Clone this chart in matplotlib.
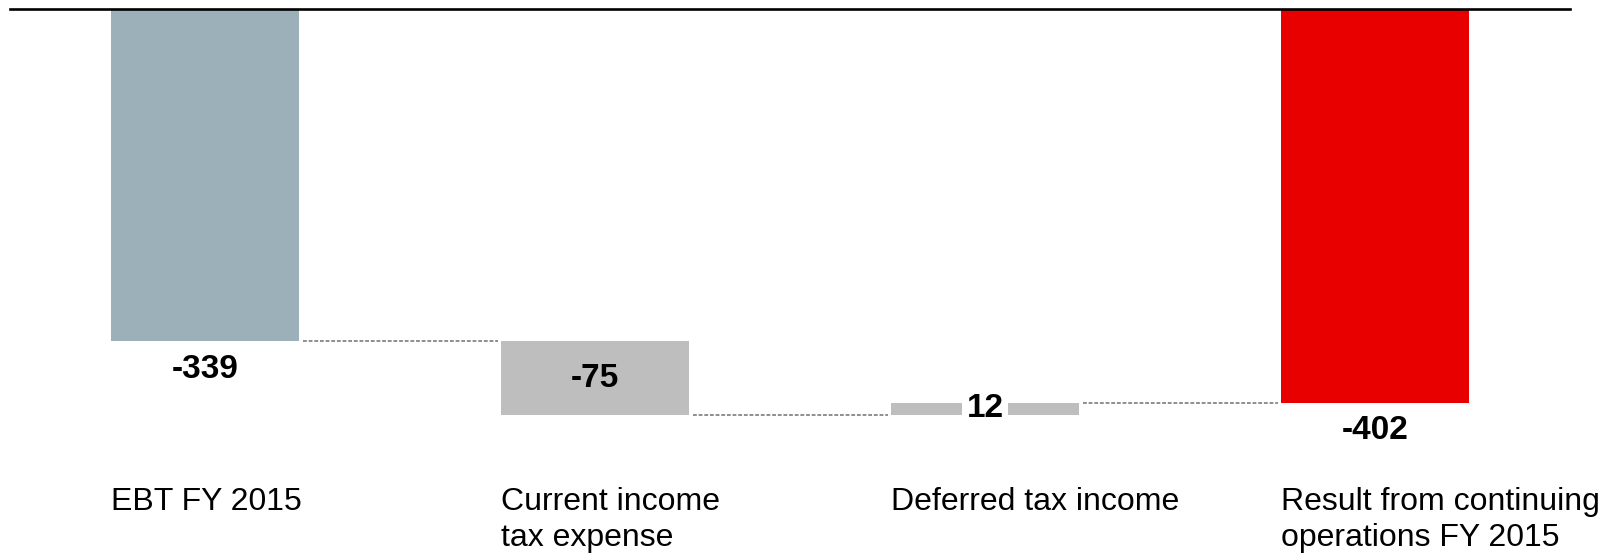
import matplotlib
matplotlib.use('Agg')
import matplotlib.pyplot as plt
from matplotlib.transforms import blended_transform_factory

categories = ['EBT FY 2015', 'Current income\ntax expense', 'Deferred tax income',
              'Result from continuing\noperations FY 2015']
values = [-339, -75, 12, -402]
is_total = [True, False, False, True]
colors = ['#9bb0b8', '#bebebe', '#bebebe', '#e80000']

plt.rcParams['font.family'] = ['Liberation Sans', 'DejaVu Sans']

fig = plt.figure(figsize=(16.12, 5.54), dpi=100)
ax = fig.add_axes([10 / 1612, 0, 1560 / 1612, 545 / 554])
ax.set_xlim(-0.5, 3.5)
ax.set_ylim(-556, 0)
ax.axis('off')

width = 0.48
running = 0
bottoms, heights, levels = [], [], []
for value, total in zip(values, is_total):
    if total:
        bottoms.append(0)
        heights.append(value)
        running = value
    else:
        bottoms.append(running)
        heights.append(value)
        running += value
    levels.append(running)

xs = list(range(len(values)))
ax.bar(xs, heights, bottom=bottoms, width=width, color=colors, zorder=2)

# dashed connectors between bars
for i in range(len(xs) - 1):
    ax.plot([xs[i] + width / 2 + 0.01, xs[i + 1] - width / 2 - 0.01], [levels[i], levels[i]],
            color='#707070', lw=1.1, ls=(0, (2.5, 1.2)), zorder=1)

ax.axhline(0, color='black', lw=1.9, clip_on=False, zorder=3)

# value labels
for x, value, bottom, total in zip(xs, values, bottoms, is_total):
    label = f'{value}'
    if total:
        ax.annotate(label, (x, bottom + value), xytext=(0, -20), textcoords='offset points',
                    ha='center', va='center', fontsize=24, fontweight='bold')
    elif abs(value) < 30:
        ax.text(x, bottom + value / 2, label, ha='center', va='center', fontsize=24,
                fontweight='bold', zorder=4,
                bbox=dict(facecolor='white', edgecolor='none', pad=3))
    else:
        ax.text(x, bottom + value / 2, label, ha='center', va='center', fontsize=24,
                fontweight='bold', zorder=4)

# category labels under bars
trans = blended_transform_factory(ax.transData, fig.transFigure)
for x, cat in zip(xs, categories):
    ax.text(x - width / 2, (554 - 487) / 554, cat, transform=trans, ha='left', va='top',
            fontsize=23, linespacing=1.25)

fig.savefig('out.png', dpi=100)
